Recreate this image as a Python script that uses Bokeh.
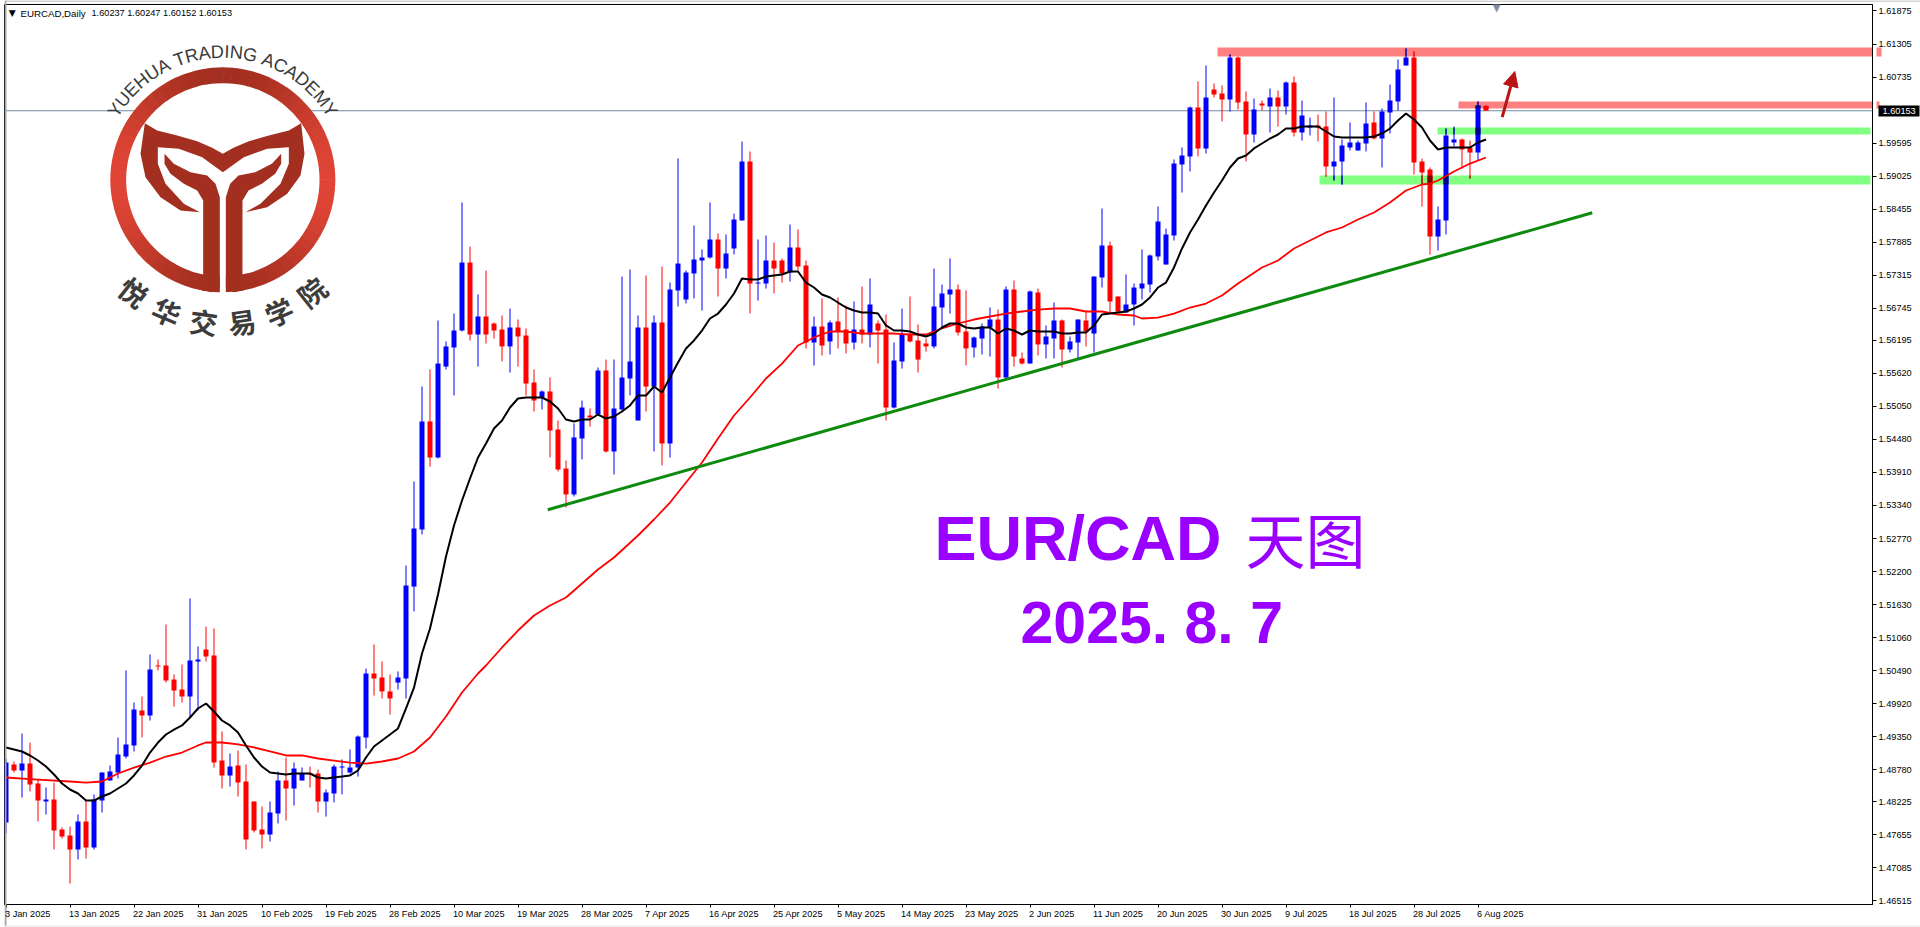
import math
from bokeh.plotting import figure
from bokeh.layouts import column
from bokeh.embed import file_html
from bokeh.resources import INLINE
from bokeh.core.properties import value
from bokeh.models import (Range1d, FixedTicker, NumeralTickFormatter, Span, BoxAnnotation, Label,
                          ColumnDataSource, Arrow, NormalHead)

highs = [1.48973,1.48921,1.49404,1.49249,1.48611,1.48472,1.48558,1.47782,1.47799,1.48006,
1.48248,1.48352,1.48731,1.48852,1.49335,1.50492,1.49939,1.50043,1.50768,1.50682,
1.51286,1.50423,1.50595,1.51735,1.50906,1.51251,1.51217,1.49439,1.49059,1.49111,
1.48869,1.48231,1.48144,1.48231,1.48749,1.48990,1.48903,1.48817,1.48834,1.48783,
1.48438,1.48869,1.48956,1.49129,1.49370,1.50526,1.50941,1.50647,1.50423,1.50475,
1.52304,1.53754,1.55393,1.55687,1.56533,1.56171,1.56653,1.58569,1.57810,1.56982,
1.57396,1.56498,1.56619,1.56740,1.56550,1.56395,1.55687,1.55325,1.55549,1.54807,
1.54116,1.54755,1.55152,1.55014,1.55721,1.55859,1.55859,1.57292,1.57413,1.56619,
1.57310,1.56619,1.57465,1.57188,1.59329,1.57396,1.58172,1.57759,1.58569,1.58034,
1.58017,1.58379,1.59622,1.59450,1.57931,1.57999,1.57879,1.57603,1.58190,1.58103,
1.57568,1.56602,1.56913,1.56533,1.56930,1.56792,1.56861,1.57120,1.57258,1.56533,
1.56636,1.56153,1.56740,1.56947,1.56464,1.56222,1.57430,1.57154,1.57603,1.57154,
1.57051,1.56257,1.56481,1.56757,1.56722,1.57120,1.57223,1.55980,1.57051,1.57085,
1.56447,1.56843,1.56550,1.56257,1.56550,1.56688,1.57292,1.58466,1.57896,1.56947,
1.57327,1.57171,1.57759,1.57672,1.58500,1.58121,1.59312,1.59519,1.60226,1.60658,
1.60934,1.60623,1.60589,1.61124,1.61089,1.60486,1.60365,1.60330,1.60537,1.60503,
1.60658,1.60744,1.60330,1.60036,1.60088,1.60140,1.60382,1.59657,1.59950,1.59640,
1.60296,1.60140,1.60192,1.60606,1.61038,1.61228,1.61176,1.59329,1.59174,1.58500,
1.59847,1.59881,1.59674,1.59640,1.60313,1.60247]

opens = [1.47868,1.48869,1.48766,1.48886,1.48541,1.48231,1.48266,1.47748,1.47644,1.47403,
1.47886,1.47437,1.48248,1.48593,1.48731,1.49007,1.49198,1.49801,1.49715,1.50578,
1.50578,1.50337,1.50164,1.50043,1.50647,1.50855,1.50751,1.48938,1.48680,1.48852,
1.48576,1.48231,1.47748,1.47661,1.48023,1.48593,1.48455,1.48593,1.48714,1.48714,
1.48231,1.48369,1.48817,1.48731,1.48817,1.49335,1.50440,1.50371,1.50130,1.50284,
1.50354,1.51941,1.52925,1.54790,1.54168,1.55738,1.56067,1.56360,1.57533,1.56291,
1.56602,1.56481,1.56377,1.56085,1.56412,1.56274,1.55462,1.55204,1.55308,1.54651,
1.53978,1.53530,1.54496,1.54893,1.54910,1.55670,1.54272,1.54997,1.55532,1.54807,
1.56412,1.55393,1.56498,1.54410,1.57051,1.56895,1.57344,1.57568,1.57620,1.57931,
1.57430,1.57776,1.58259,1.59277,1.57171,1.57171,1.57568,1.57568,1.57361,1.57793,
1.57482,1.56153,1.56429,1.56171,1.56516,1.56377,1.56153,1.56377,1.56291,1.56481,
1.56377,1.55031,1.55825,1.56291,1.56188,1.56136,1.56085,1.56757,1.56982,1.57068,
1.56343,1.56067,1.56222,1.56412,1.56550,1.55549,1.57068,1.55877,1.55790,1.57016,
1.56119,1.56222,1.56533,1.56032,1.56153,1.56533,1.56308,1.57275,1.57827,1.56947,
1.56671,1.56809,1.57085,1.57154,1.57637,1.57499,1.57999,1.59225,1.59364,1.60209,
1.59502,1.60520,1.60451,1.60347,1.61072,1.60313,1.59743,1.60278,1.60226,1.60382,
1.60226,1.60641,1.59778,1.59864,1.59898,1.59881,1.59191,1.59277,1.59519,1.59467,
1.59588,1.59950,1.59674,1.60123,1.60313,1.60934,1.61072,1.59277,1.59139,1.57983,
1.58259,1.59605,1.59657,1.59519,1.59433,1.60237]

closes = [1.48903,1.48766,1.48886,1.48524,1.48248,1.48266,1.47730,1.47626,1.47403,1.47886,
1.47437,1.48266,1.48731,1.48749,1.49042,1.49215,1.49819,1.49715,1.50509,1.50560,
1.50319,1.50147,1.50043,1.50664,1.50682,1.50733,1.48903,1.48680,1.48834,1.48558,
1.47575,1.47730,1.47661,1.48040,1.48593,1.48455,1.48800,1.48714,1.48697,1.48231,
1.48386,1.48834,1.48834,1.48817,1.49352,1.50440,1.50354,1.50130,1.50009,1.50371,
1.51959,1.52943,1.54790,1.54168,1.55790,1.56085,1.56360,1.57533,1.56291,1.56602,
1.56291,1.56360,1.56085,1.56412,1.56257,1.55445,1.55152,1.55308,1.54634,1.53961,
1.53530,1.54514,1.55031,1.54859,1.55670,1.54272,1.55014,1.55549,1.55825,1.56412,
1.55393,1.56498,1.54410,1.57068,1.57516,1.57361,1.57586,1.57620,1.57931,1.57430,
1.57689,1.58276,1.59277,1.57171,1.57188,1.57568,1.57430,1.57344,1.57793,1.57465,
1.56153,1.56429,1.56101,1.56498,1.56343,1.56136,1.56377,1.56291,1.56809,1.56360,
1.55031,1.55842,1.56291,1.56171,1.55859,1.56085,1.56774,1.56999,1.57068,1.56326,
1.56050,1.56240,1.56429,1.56550,1.55549,1.57068,1.55911,1.55790,1.57034,1.56119,
1.56257,1.56533,1.56032,1.56171,1.56550,1.56343,1.57292,1.57827,1.56861,1.56688,
1.56809,1.57102,1.57171,1.57655,1.58241,1.58017,1.59242,1.59381,1.60209,1.59502,
1.60382,1.60434,1.60347,1.61072,1.60295,1.59743,1.60175,1.60244,1.60382,1.60226,
1.60641,1.59778,1.60071,1.59898,1.59864,1.59191,1.59277,1.59553,1.59605,1.59605,
1.59933,1.59674,1.60140,1.60330,1.60865,1.61072,1.59260,1.59087,1.57983,1.58276,
1.59726,1.59657,1.59484,1.59433,1.60244,1.60153]

lows = [1.47678,1.48731,1.48300,1.48404,1.47886,1.48006,1.47403,1.47592,1.46815,1.47230,
1.47247,1.47403,1.48040,1.48593,1.48628,1.48973,1.49094,1.49335,1.49629,1.50492,
1.50284,1.49870,1.49939,1.49680,1.49801,1.50647,1.48817,1.48455,1.48489,1.48317,
1.47403,1.47695,1.47420,1.47541,1.47851,1.47903,1.48162,1.48593,1.48472,1.48040,
1.47971,1.48213,1.48352,1.48714,1.48662,1.49146,1.50060,1.50009,1.49732,1.50164,
1.50009,1.51510,1.52839,1.54012,1.54151,1.55687,1.55239,1.56343,1.56188,1.55738,
1.56136,1.56222,1.55825,1.55635,1.55738,1.55239,1.54962,1.54997,1.54168,1.53927,
1.53305,1.53495,1.54134,1.54703,1.54893,1.54254,1.53875,1.54979,1.55239,1.54807,
1.54962,1.54272,1.54030,1.54168,1.56774,1.56826,1.56913,1.56705,1.57603,1.56947,
1.57258,1.57672,1.58259,1.56653,1.56878,1.57085,1.56999,1.57188,1.57206,1.57396,
1.56050,1.55756,1.55929,1.55946,1.56050,1.55963,1.56032,1.56136,1.56067,1.55790,
1.54807,1.55014,1.55704,1.56153,1.55635,1.55998,1.56050,1.56395,1.56653,1.56274,
1.55756,1.55894,1.55946,1.55911,1.55359,1.55532,1.55738,1.55773,1.55790,1.55929,
1.55877,1.55877,1.55721,1.55980,1.55877,1.56085,1.55980,1.57102,1.56671,1.56671,
1.56671,1.56447,1.56895,1.57016,1.57568,1.57499,1.57914,1.58742,1.59105,1.59364,
1.59415,1.60382,1.59968,1.60140,1.60175,1.59277,1.59605,1.60157,1.59778,1.59881,
1.60088,1.59709,1.59640,1.59726,1.59623,1.59018,1.58949,1.58880,1.59467,1.59467,
1.59450,1.59657,1.59174,1.59760,1.60157,1.60934,1.59053,1.58500,1.57672,1.57741,
1.58017,1.59536,1.59157,1.58984,1.59294,1.60152]

ma_fast = [1.49163,1.49129,1.49094,1.49025,1.48938,1.48834,1.48697,1.48541,1.48438,1.48369,
1.48248,1.48248,1.48317,1.48369,1.48455,1.48541,1.48680,1.48852,1.49076,1.49249,
1.49387,1.49473,1.49543,1.49680,1.49836,1.49922,1.49784,1.49629,1.49543,1.49421,
1.49198,1.48990,1.48834,1.48731,1.48714,1.48697,1.48714,1.48714,1.48714,1.48645,
1.48628,1.48645,1.48662,1.48680,1.48766,1.48990,1.49180,1.49284,1.49387,1.49491,
1.49836,1.50198,1.50785,1.51217,1.51804,1.52459,1.52995,1.53426,1.53806,1.54168,
1.54410,1.54669,1.54807,1.55031,1.55187,1.55204,1.55204,1.55204,1.55135,1.55014,
1.54824,1.54790,1.54824,1.54824,1.54910,1.54841,1.54876,1.54962,1.55066,1.55239,
1.55239,1.55393,1.55290,1.55549,1.55807,1.56050,1.56188,1.56360,1.56567,1.56653,
1.56809,1.56999,1.57258,1.57241,1.57241,1.57292,1.57310,1.57327,1.57379,1.57379,
1.57188,1.57102,1.56982,1.56930,1.56843,1.56757,1.56705,1.56671,1.56671,1.56653,
1.56447,1.56360,1.56360,1.56343,1.56291,1.56257,1.56308,1.56412,1.56481,1.56481,
1.56412,1.56395,1.56412,1.56412,1.56308,1.56395,1.56360,1.56291,1.56360,1.56343,
1.56343,1.56343,1.56308,1.56308,1.56326,1.56326,1.56447,1.56636,1.56653,1.56671,
1.56688,1.56740,1.56809,1.56930,1.57102,1.57188,1.57448,1.57776,1.58052,1.58276,
1.58518,1.58742,1.58949,1.59174,1.59329,1.59381,1.59502,1.59588,1.59674,1.59743,
1.59846,1.59846,1.59881,1.59881,1.59881,1.59795,1.59709,1.59691,1.59691,1.59691,
1.59691,1.59709,1.59760,1.59846,1.59985,1.60106,1.60002,1.59864,1.59640,1.59484,
1.59519,1.59519,1.59519,1.59519,1.59605,1.59657]

ma_slow_bar = [0,4,8,10,12,14,16,18,20,22,24,25,27,29,31,33,35,37,39,41,43,45,47,49,51,53,55,57,59,60,
62,64,66,68,70,71,74,76,79,81,83,85,87,89,91,92,93,95,97,99,100,101,103,105,107,109,111,113,115,117,
119,121,123,125,127,129,131,133,135,137,139,141,142,144,146,148,150,152,154,157,159,161,163,165,167,
169,171,173,175,177,178,179,181,183,185]
ma_slow = [1.48645,1.48610,1.48576,1.48558,1.48576,1.48714,1.48817,1.48903,1.49007,1.49076,1.49198,1.49249,
1.49249,1.49215,1.49163,1.49094,1.49025,1.49025,1.48973,1.48938,1.48903,1.48886,1.48921,1.48973,1.49094,
1.49335,1.49698,1.50112,1.50440,1.50578,1.50889,1.51182,1.51441,1.51614,1.51752,1.51873,1.52235,1.52442,
1.52822,1.53098,1.53391,1.53736,1.54081,1.54496,1.54893,1.55048,1.55204,1.55532,1.55790,1.56101,1.56171,
1.56240,1.56343,1.56343,1.56308,1.56308,1.56308,1.56291,1.56291,1.56395,1.56481,1.56550,1.56602,1.56653,
1.56688,1.56722,1.56740,1.56740,1.56688,1.56688,1.56636,1.56619,1.56567,1.56584,1.56653,1.56757,1.56826,
1.56965,1.57171,1.57448,1.57568,1.57776,1.57914,1.58052,1.58138,1.58276,1.58397,1.58569,1.58777,1.58880,
1.58897,1.58949,1.59105,1.59242,1.59346]

price_ticks = [1.61875,1.61305,1.60735,1.59595,1.59025,1.58455,1.57885,1.57315,1.56745,1.56195,1.55620,
1.55050,1.54480,1.53910,1.53340,1.52770,1.52200,1.51630,1.51060,1.50490,1.49920,1.49350,1.48780,1.48225,
1.47655,1.47085,1.46515]
date_labels = ["3 Jan 2025","13 Jan 2025","22 Jan 2025","31 Jan 2025","10 Feb 2025","19 Feb 2025","28 Feb 2025",
"10 Mar 2025","19 Mar 2025","28 Mar 2025","7 Apr 2025","16 Apr 2025","25 Apr 2025","5 May 2025","14 May 2025",
"23 May 2025","2 Jun 2025","11 Jun 2025","20 Jun 2025","30 Jun 2025","9 Jul 2025","18 Jul 2025","28 Jul 2025","6 Aug 2025"]
date_bars = [8 * k for k in range(len(date_labels))]

# resistance / support zones: bar start, bar end, upper price, lower price, colour
zone_start = [151.44, 181.56, 178.94, 164.19]
zone_end = [233.94, 233.69, 233.06, 233.06]
zone_top = [1.61245, 1.60313, 1.59864, 1.59036]
zone_bottom = [1.61089, 1.60192, 1.59743, 1.58880]
zone_color = ["#FF8080", "#FF8080", "#80FF80", "#80FF80"]

trend_bar = [67.72, 198.28]
trend_price = [1.53266, 1.58392]
last_price = 1.60153

UP, DOWN = "#0000FF", "#FF0000"
bars = list(range(len(closes)))

# pixel -> data helpers for decorations that are not data marks
def X(px): return (px - 5.5) / 8.0
def Y(py): return 1.62056 - 0.0001726 * py

p = figure(frame_width=1868, frame_height=900, min_border_left=4, min_border_top=4, min_border_right=48,
           min_border_bottom=23, x_range=Range1d(X(4), X(1872)), y_range=Range1d(Y(904), Y(4)),
           y_axis_location="right", toolbar_location=None, output_backend="svg",
           background_fill_color="#FFFFFF", border_fill_color="#FFFFFF")
p.grid.visible = False
p.outline_line_color = "#000000"
p.outline_line_width = 1

p.yaxis.ticker = FixedTicker(ticks=price_ticks)
p.yaxis.formatter = NumeralTickFormatter(format="0.00000")
p.yaxis.major_tick_out = 4
p.yaxis.major_tick_in = 0
p.yaxis.minor_tick_out = 0
p.yaxis.minor_tick_in = 0
p.yaxis.major_label_standoff = 2
p.yaxis.major_label_text_font = "Liberation Sans"
p.yaxis.major_label_text_font_size = "9.2px"
p.yaxis.major_label_text_color = "#000000"
p.yaxis.axis_line_color = "#000000"
p.yaxis.major_tick_line_color = "#000000"

p.xaxis.ticker = FixedTicker(ticks=date_bars)
p.xaxis.major_label_overrides = {b: "" for b in date_bars}
p.xaxis.major_tick_out = 3
p.xaxis.major_tick_in = 0
p.xaxis.minor_tick_out = 0
p.xaxis.minor_tick_in = 0
p.xaxis.axis_line_color = "#000000"
p.xaxis.major_tick_line_color = "#000000"

# transparent sheet over the whole page for what lies outside the plot frame
q = figure(frame_width=1920, frame_height=927, min_border=0, x_range=Range1d(X(0), X(1920)), y_range=Range1d(Y(927), Y(0)),
           toolbar_location=None, output_backend="svg", background_fill_color=None, border_fill_color=None,
           outline_line_color=None, styles={"margin-top": "-927px"})
q.axis.visible = False
q.grid.visible = False

for b_, t_ in zip(date_bars, date_labels):
    q.add_layout(Label(x=b_, y=Y(913), text=t_, x_offset=-5, text_font="Liberation Sans",
                       text_font_size="9.2px", text_align="left", text_baseline="middle", text_color="#000000"))

# zones under the candles
for a, b, t, u, c in zip(zone_start, zone_end, zone_top, zone_bottom, zone_color):
    p.add_layout(BoxAnnotation(left=a, right=b, top=t, bottom=u, fill_color=c, fill_alpha=1.0,
                               line_color=None, level="underlay"))
    if b > X(1872):
        q.quad(left=[X(1872)], right=[b], top=[t], bottom=[u], fill_color=c, line_color=None)
p.add_layout(Span(location=last_price, dimension="width", line_color="#7488A0", line_width=1, level="underlay"))

# candles
colors = [UP if c >= o else DOWN for o, c in zip(opens, closes)]
src = ColumnDataSource(dict(x=bars, h=highs, l=lows, t=[max(o, c) for o, c in zip(opens, closes)],
                            b=[min(o, c) for o, c in zip(opens, closes)], c=colors))
p.segment("x", "l", "x", "h", source=src, line_color="c", line_width=1)
p.vbar(x="x", top="t", bottom="b", width=0.625, source=src, fill_color="c", line_color=None)

# where a candle passes under a zone the colours multiply
def mult(c1, c2):
    a = [int(c1[i:i + 2], 16) for i in (1, 3, 5)]
    b = [int(c2[i:i + 2], 16) for i in (1, 3, 5)]
    return "#%02X%02X%02X" % tuple(x * y // 255 for x, y in zip(a, b))
ox, ot, ob, oc, wx, wt, wb, wc = [], [], [], [], [], [], [], []
for a, e, zt, zb, zc in zip(zone_start, zone_end, zone_top, zone_bottom, zone_color):
    for i in bars:
        if a <= i <= e:
            t_, b_ = max(opens[i], closes[i]), min(opens[i], closes[i])
            if min(t_, zt) > max(b_, zb):
                ox.append(i); ot.append(min(t_, zt)); ob.append(max(b_, zb)); oc.append(mult(colors[i], zc))
            if min(highs[i], zt) > max(lows[i], zb):
                wx.append(i); wt.append(min(highs[i], zt)); wb.append(max(lows[i], zb)); wc.append(mult(colors[i], zc))
p.segment(wx, wb, wx, wt, line_color=wc, line_width=1)
p.vbar(x=ox, top=ot, bottom=ob, width=0.625, fill_color=oc, line_color=None)

# moving averages and trend line
p.line(ma_slow_bar, ma_slow, line_color="#FF0000", line_width=1.8)
p.line(bars, ma_fast, line_color="#000000", line_width=2)
p.line(trend_bar, trend_price, line_color="#0E8A0E", line_width=3)
p.add_layout(Arrow(end=NormalHead(size=15, fill_color="#B81414", line_color="#B81414"), x_start=X(1501.7), y_start=Y(116.7),
                   x_end=X(1514.3), y_end=Y(71), line_color="#B81414", line_width=3))

# logo (decoration, drawn in reference pixels)
LX = lambda z: X(80 + z / 3.0)
LY = lambda z: Y(20 + z / 3.0)
cx_z, cy_z = 427, 478
p.circle(x=[LX(cx_z)], y=[LY(cy_z)], radius=100, radius_units="screen", fill_color="#FFFFFF", line_color=None)
n = 72
sa = [2 * math.pi * k / n for k in range(n)]
ea = [2 * math.pi * (k + 1) / n + 0.005 for k in range(n)]
def ring_col(th):
    t = abs(math.cos(th)) ** 2
    d, l = (0xA3, 0x2F, 0x20), (0xE0, 0x45, 0x36)
    return "#%02X%02X%02X" % tuple(int(d[i] + (l[i] - d[i]) * t) for i in range(3))
rc = [ring_col(a + math.pi / n) for a in sa]
p.annular_wedge(x=[LX(cx_z)] * n, y=[LY(cy_z)] * n, inner_radius=96.7, outer_radius=112.5, inner_radius_units="screen",
                outer_radius_units="screen", start_angle=sa, end_angle=ea, fill_color=rc, line_color=None)
slit = [(418, 690), (436, 690), (436, 835), (418, 835)]
tulip = [(193,308),(230,330),(290,345),(350,362),(395,382),(427,400),(459,382),(505,362),(565,345),(625,330),(662,308),
         (672,400),(660,465),(620,520),(560,560),(495,575),(540,550),(600,490),(625,430),(625,380),(560,385),(490,410),
         (427,455),(365,410),(295,385),(232,380),(232,430),(255,490),(310,550),(358,575),(300,570),(240,530),(195,470),(180,400)]
stem_l = [(252,400),(280,430),(330,455),(380,465),(405,490),(418,530),(418,800),(395,815),(365,810),(368,760),(368,540),
          (350,510),(310,490),(270,460),(252,430)]
stem_r = [(2 * 427 - a, b) for a, b in stem_l]
p.patch([LX(a) for a, b in slit], [LY(b) for a, b in slit], fill_color="#FFFFFF", line_color=None)
for shape in (tulip, stem_l, stem_r):
    p.patch([LX(a) for a, b in shape], [LY(b) for a, b in shape], fill_color="#A32F20", line_color=None)

cx_px, cy_px = 80 + cx_z / 3.0, 20 + cy_z / 3.0
arc_text = "YUEHUA TRADING ACADEMY"
arc_w = [.667,.722,.667,.722,.722,.667,.278,.611,.722,.667,.722,.278,.722,.778,.278,.667,.722,.667,.722,.667,.833,.667]
fs, R, track = 18.2, 128.0, 0.4
tot = sum(arc_w) * fs + track * len(arc_w)
pos, ax, ay, aa = -tot / 2, [], [], []
for w in arc_w:
    th = (pos + w * fs / 2) / R
    ax.append(X(cx_px + R * math.sin(th))); ay.append(Y(cy_px - R * math.cos(th))); aa.append(-th)
    pos += w * fs + track
p.text(x=ax, y=ay, text=list(arc_text), angle=aa, text_font=value("Liberation Sans"), text_font_size="18.2px",
       text_align="center", text_baseline="alphabetic", text_color="#3A3A3A")
cn = "悦华交易学院"
phi = [math.radians(a) for a in (-38.5, -23.1, -7.7, 7.7, 23.1, 38.5)]
p.text(x=[X(cx_px + 143 * math.sin(f)) for f in phi], y=[Y(cy_px + 143 * math.cos(f)) for f in phi], text=list(cn), angle=phi,
       text_font=value("Noto Sans CJK SC"), text_font_style="bold", text_font_size="28px", text_align="center",
       text_baseline="middle", text_color="#3C3C3C")

# big titles
p.add_layout(Label(x=X(934), y=Y(537), text="EUR/CAD", text_font="Liberation Sans", text_font_style="bold", text_font_size="63px",
                   text_color="#9900FF", text_align="left", text_baseline="middle"))
p.add_layout(Label(x=X(1305), y=Y(537), text="天图", text_font="Noto Sans CJK SC", text_font_size="60px",
                   text_color="#9900FF", text_align="center", text_baseline="middle"))
p.add_layout(Label(x=X(1020), y=Y(622), text="2025. 8. 7", text_font="Liberation Sans", text_font_style="bold", text_font_size="59px",
                   text_color="#9900FF", text_align="left", text_baseline="middle"))

# header
p.add_layout(Label(x=X(20), y=Y(12.7), text="EURCAD,Daily", text_font="Liberation Sans", text_font_size="9.7px",
                   text_color="#000000", text_align="left", text_baseline="middle"))
p.add_layout(Label(x=X(91), y=Y(12.7), text="1.60237 1.60247 1.60152 1.60153", text_font="Liberation Sans", text_font_size="9.2px",
                   text_color="#000000", text_align="left", text_baseline="middle"))
p.add_layout(Label(x=X(11.7), y=Y(12.7), text="▼", text_font="DejaVu Sans", text_font_size="9px",
                   text_color="#000000", text_align="center", text_baseline="middle"))
p.add_layout(Label(x=X(1496), y=Y(6), text="▼", text_font="DejaVu Sans", text_font_size="12px",
                   text_color="#7F8FA6", text_align="center", text_baseline="middle"))

# price tag and window edge on the sheet
q.quad(left=[X(1874)], right=[X(1915)], top=[Y(105)], bottom=[Y(116)], fill_color="#000000", line_color=None)
q.add_layout(Label(x=X(1878), y=Y(110.5), text="1.60153", text_font="Liberation Sans",
                   text_font_size="9.2px", text_color="#FFFFFF", text_align="left", text_baseline="middle"))
for l_, r_, t_, b_, c_ in [(0, 2, 0, 927, "#A8A8A8"), (0, 1920, 0, 1, "#A8A8A8"), (1918, 1920, 0, 927, "#E8E8E8"), (0, 1920, 925, 927, "#EFEFEF")]:
    q.quad(left=[X(l_)], right=[X(r_)], top=[Y(t_)], bottom=[Y(b_)], fill_color=c_, line_color=None)

open("out.html", "w").write(file_html(column(p, q), INLINE))
